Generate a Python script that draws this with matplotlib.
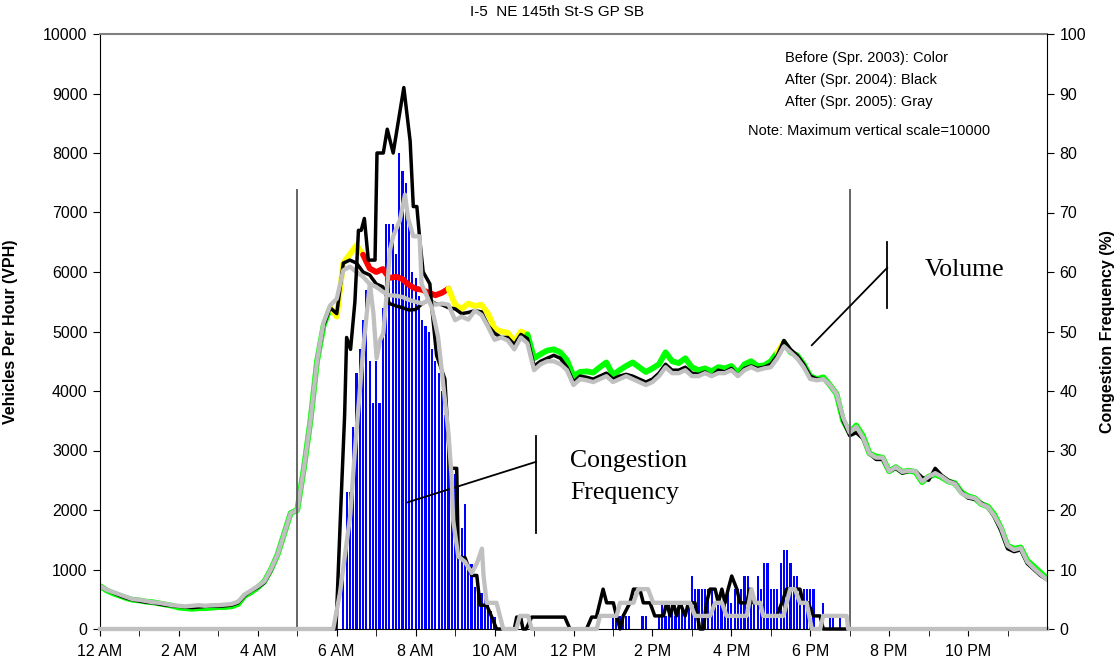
import numpy as np
import matplotlib.pyplot as plt

plt.rcParams['font.family'] = ['Liberation Sans', 'DejaVu Sans']

title = "I-5  NE 145th St-S GP SB"
hour_labels = ['12 AM', '2 AM', '4 AM', '6 AM', '8 AM', '10 AM',
               '12 PM', '2 PM', '4 PM', '6 PM', '8 PM', '10 PM']

# volume (VPH), one value every 10 minutes from 0:00 to 24:00
vol_2003 = [720, 650, 600, 560, 520, 490,
            480, 460, 450, 430, 410, 390,
            360, 350, 340, 350, 350, 360,
            370, 370, 380, 420, 560, 620,
            700, 800, 1000, 1250, 1600, 1950,
            2000, 2700, 3500, 4500, 5100, 5400,
            5250, 6150, 6300, 6450, 6290, 6060,
            6000, 6050, 5900, 5920, 5880, 5780,
            5720, 5700, 5650, 5610, 5650, 5720,
            5450, 5380, 5470, 5430, 5450, 5300,
            5050, 5000, 4980, 4830, 5000, 4950,
            4550, 4620, 4680, 4700, 4650, 4520,
            4250, 4320, 4330, 4310, 4400, 4480,
            4270, 4350, 4420, 4480, 4400, 4320,
            4380, 4450, 4650, 4500, 4470, 4550,
            4400, 4350, 4380, 4330, 4400, 4380,
            4420, 4300, 4450, 4500, 4420, 4430,
            4500, 4650, 4820, 4650, 4600, 4450,
            4250, 4200, 4230, 4100, 3950, 3500,
            3300, 3420, 3250, 2950, 2900, 2880,
            2650, 2720, 2640, 2660, 2640, 2470,
            2560, 2600, 2550, 2480, 2450, 2300,
            2230, 2200, 2100, 2060, 1920, 1700,
            1400, 1350, 1370, 1150, 1050, 950,
            850]
# speed state of the 2003 line: green / yellow / red, (state, number of points)
speed_2003 = [('g', 35), ('y', 5), ('r', 13), ('y', 12), ('g', 38), ('y', 1), ('g', 41)]

vol_2004 = [720, 660, 610, 560, 520, 490,
            470, 450, 440, 420, 400, 390,
            380, 370, 360, 370, 380, 390,
            380, 390, 400, 440, 560, 640,
            700, 780, 980, 1250, 1600, 1950,
            2000, 2700, 3500, 4500, 5100, 5400,
            5300, 6150, 6200, 6150, 6000, 5950,
            5800, 5750, 5470, 5430, 5400, 5360,
            5370, 5470, 5530, 5470, 5450, 5400,
            5380, 5300, 5320, 5350, 5330, 5100,
            4970, 4900, 4900, 4780, 4950, 4880,
            4420, 4500, 4550, 4600, 4550, 4400,
            4150, 4250, 4230, 4200, 4250, 4300,
            4200, 4250, 4280, 4250, 4200, 4150,
            4200, 4300, 4450, 4350, 4350, 4400,
            4300, 4280, 4320, 4250, 4350, 4320,
            4380, 4250, 4380, 4420, 4380, 4400,
            4450, 4600, 4850, 4700, 4600, 4450,
            4250, 4200, 4200, 4100, 3950, 3500,
            3250, 3300, 3200, 2950, 2850, 2850,
            2650, 2700, 2620, 2650, 2650, 2550,
            2500, 2700, 2580, 2500, 2450, 2300,
            2200, 2180, 2120, 2050, 1880, 1650,
            1350, 1300, 1330, 1100, 1000, 900,
            830]

vol_2005 = [720, 660, 620, 580, 540, 500,
            490, 470, 450, 440, 420, 400,
            390, 380, 390, 400, 390, 400,
            400, 410, 420, 460, 580, 650,
            720, 800, 1000, 1250, 1600, 1950,
            2000, 2700, 3500, 4500, 5150, 5440,
            5550, 6030, 6090, 6000, 5920, 5800,
            5750, 5670, 5610, 5600, 5580, 5530,
            5500, 5470, 5530, 5450, 5470, 5450,
            5190, 5250, 5200, 5350, 5280, 5080,
            4860, 4900, 4850, 4700, 4900, 4800,
            4350, 4450, 4500, 4500, 4450, 4350,
            4100, 4200, 4180, 4150, 4200, 4250,
            4150, 4200, 4250, 4200, 4150, 4100,
            4150, 4250, 4400, 4300, 4300, 4350,
            4250, 4250, 4300, 4250, 4300, 4300,
            4350, 4250, 4350, 4400, 4350, 4380,
            4400, 4550, 4750, 4650, 4550, 4400,
            4200, 4180, 4200, 4100, 3950, 3550,
            3300, 3400, 3220, 2950, 2880, 2880,
            2650, 2720, 2640, 2660, 2650, 2480,
            2560, 2620, 2560, 2480, 2440, 2280,
            2220, 2200, 2100, 2050, 1900, 1700,
            1400, 1330, 1360, 1130, 1020, 920,
            830]

# congestion frequency 2003 (%), 5-minute bins
cf_2003_am_start = 6 + 10 / 60
cf_2003_am = [11, 23, 23, 34, 43, 47, 52, 57, 45, 38, 45, 38, 54, 68, 68, 68,
              63, 80, 77, 75, 68, 60, 59, 56, 52, 51, 50, 47, 45, 43, 40, 36,
              34, 27, 26, 24, 17, 21, 11, 11, 7, 6, 6, 5, 4, 3, 2]
cf_2003_pm_start = 13.0
cf_2003_pm = [2.2, 2.2, 2.2, 2.2, 2.2, 2.2, 0, 0, 0, 2.2, 2.2, 0, 0, 0,
              2.2, 4.4, 2.2, 4.4, 4.4, 2.2, 4.4, 4.4, 2.2, 4.4,
              8.9, 6.7, 6.7, 6.7, 6.7, 6.7, 6.7, 4.4, 4.4, 4.4, 4.4,
              6.7, 4.4, 6.7, 6.7, 6.7, 8.9, 8.9, 6.7, 4.4, 8.9, 6.7,
              11.1, 11.1, 6.7, 6.7, 6.7, 11.1, 13.3, 13.3, 11.1, 8.9, 8.9,
              6.7, 6.7, 6.7, 6.7, 6.7, 0, 0, 4.4, 0, 2.2, 2.2, 0, 2.2, 0, 0]

# congestion frequency 2004 (black) and 2005 (gray): hour, percent
cf_2004_t = [0, 5.98, 6.10, 6.20, 6.25, 6.35, 6.46, 6.55, 6.62, 6.70,
             6.80, 6.97, 7.02, 7.18, 7.28, 7.43, 7.70, 7.86, 7.94, 8.03,
             8.11, 8.19, 8.36, 8.41, 8.53, 8.74, 8.79, 8.87, 9.04, 9.08,
             9.25, 9.42, 9.55, 9.63, 9.80, 9.93, 10.05, 10.50, 10.56, 10.66,
             10.72, 10.80, 10.94, 11.78, 11.91, 12.33, 12.46, 12.58, 12.75, 12.84,
             13.01, 13.09, 13.18, 13.26, 13.43, 13.52, 13.68, 13.77, 13.94, 14.06,
             14.28, 14.36, 14.45, 14.53, 14.61, 14.70, 14.83, 14.91, 15.08, 15.20,
             15.29, 15.37, 15.46, 15.59, 15.67, 15.76, 15.84, 15.92, 16.01, 16.14,
             16.22, 16.39, 16.47, 16.56, 16.73, 16.81, 17.15, 17.28, 17.40, 17.74,
             17.82, 17.95, 18.08, 18.25, 18.33, 24]
cf_2004_v = [0, 0, 20, 36, 49, 47, 55, 67, 67, 69,
             62, 62, 80, 80, 84, 80, 91, 82, 71, 71,
             65, 60, 58, 54, 46, 42, 36, 27, 27, 12,
             12, 9, 9, 4, 4, 2, 0, 0, 2, 2,
             0, 0, 2, 2, 0, 0, 2, 2, 6.7, 4.4,
             4.4, 2.2, 0, 2.2, 4.4, 6.7, 6.7, 4.4, 4.4, 2.2,
             2.2, 4.4, 2.2, 4.4, 2.2, 4.4, 2.2, 4.4, 4.4, 0,
             0, 4.4, 6.7, 6.7, 4.4, 6.7, 4.4, 6.7, 8.9, 6.7,
             4.4, 4.4, 6.7, 4.4, 4.4, 2.2, 2.2, 4.4, 6.7, 6.7,
             4.4, 4.4, 2.2, 2.2, 0, 0]

cf_2005_t = [0, 5.91, 6.08, 6.34, 6.46, 6.67, 6.79, 6.84, 6.93, 7.01,
             7.10, 7.18, 7.27, 7.35, 7.43, 7.60, 7.73, 7.81, 7.94, 8.10,
             8.15, 8.41, 8.57, 8.66, 8.83, 8.91, 8.95, 9.08, 9.25, 9.42,
             9.55, 9.68, 9.72, 9.80, 10.05, 10.22, 10.55, 10.64, 10.85, 10.94,
             12.59, 12.67, 13.09, 13.18, 13.52, 13.64, 13.89, 14.02, 14.95, 15.08,
             15.46, 15.59, 15.76, 15.88, 16.39, 16.51, 16.60, 16.73, 16.81, 17.32,
             17.49, 17.61, 17.74, 17.91, 18.04, 18.25, 18.33, 18.92, 18.96, 24]
cf_2005_v = [0, 0, 6, 19, 30, 47, 55, 58, 53, 45.5,
             48.6, 49.7, 56.7, 63.7, 66, 68.7, 73, 69, 66, 66,
             58, 54, 49, 43.5, 33, 25.6, 18.3, 12.2, 11.3, 9.4,
             11, 13.5, 9, 4.4, 4.4, 0, 0, 2.2, 2.2, 0,
             0, 2.2, 2.2, 4.4, 4.4, 6.7, 6.7, 4.4, 4.4, 2.2,
             2.2, 4.4, 4.4, 2.2, 2.2, 6.7, 4.4, 4.4, 2.2, 2.2,
             6.7, 6.7, 4.4, 4.4, 0, 0, 2.2, 2.2, 0, 0]

speed_colors = {'g': '#00ff00', 'y': '#ffff00', 'r': '#ff0000'}

fig = plt.figure(figsize=(11.15, 6.69), dpi=100)
box = [100 / 1115, 40 / 669, 947 / 1115, 595 / 669]
axb = fig.add_axes(box)                  # bars (bottom layer)
ax = fig.add_axes(box, sharex=axb)       # volume
ax2 = fig.add_axes(box, sharex=axb)      # congestion lines, right axis

# congestion bars 2003
t_am = cf_2003_am_start + np.arange(len(cf_2003_am)) * 5 / 60
t_pm = cf_2003_pm_start + np.arange(len(cf_2003_pm)) * 5 / 60
axb.bar(t_am, cf_2003_am, width=0.055, color='#0000ff', linewidth=0)
axb.bar(t_pm, cf_2003_pm, width=0.055, color='#0000ff', linewidth=0)
axb.set_ylim(0, 100)
axb.axis('off')

# volume lines
t10 = np.arange(len(vol_2003)) / 6
start = 0
for code, n in speed_2003:
    end = min(start + n, len(t10) - 1)
    ax.plot(t10[start:end + 1], vol_2003[start:end + 1], color=speed_colors[code],
            lw=4.2, solid_capstyle='round', solid_joinstyle='round')
    start = end
ax.plot(t10, vol_2004, color='black', lw=2.5, solid_joinstyle='round')
ax.plot(t10, vol_2005, color='#c0c0c0', lw=3.1, solid_joinstyle='round')

# markers of the analysis period and annotation pointers
ax.vlines([5, 19], 0, 7400, color='#595959', lw=1.3)
ax.plot([19.95, 19.95], [5400, 6500], color='black', lw=1.3)
ax.plot([19.95, 18.04], [6070, 4770], color='black', lw=1.3)
ax.plot([11.05, 11.05], [1610, 3240], color='black', lw=1.3)
ax.plot([11.05, 7.8], [2810, 2130], color='black', lw=1.3)

ax.set_xlim(0, 24)
ax.set_ylim(0, 10000)
ax.set_xticks(np.arange(0, 24, 2))
ax.set_xticklabels(hour_labels)
ax.set_xticks(np.arange(1, 25, 2), minor=True)
ax.set_yticks(np.arange(0, 10001, 1000))
ax.tick_params(axis='x', which='both', direction='out', length=5, labelsize=11.5, pad=6)
ax.tick_params(axis='y', direction='out', length=5, labelsize=11.5, pad=4)
ax.set_ylabel('Vehicles Per Hour (VPH)', fontsize=11.5, fontweight='bold')
ax.yaxis.set_label_coords(-0.087, 0.5)
ax.patch.set_visible(False)
ax.spines['right'].set_visible(False)
ax.spines['top'].set_color('#808080')
ax.spines['top'].set_linewidth(1.5)

# congestion frequency lines
ax2.plot(cf_2004_t, cf_2004_v, color='black', lw=2.5, clip_on=False)
ax2.plot(cf_2005_t, cf_2005_v, color='#c0c0c0', lw=3.1, clip_on=False)
ax2.set_ylim(0, 100)
ax2.set_yticks(np.arange(0, 101, 10))
ax2.yaxis.tick_right()
ax2.yaxis.set_label_position('right')
ax2.tick_params(axis='y', direction='out', length=5, labelsize=11.5, pad=4)
ax2.set_ylabel('Congestion Frequency (%)', fontsize=11.5, fontweight='bold')
ax2.yaxis.set_label_coords(1.056, 0.5)
ax2.xaxis.set_visible(False)
ax2.patch.set_visible(False)
for s in ['left', 'top', 'bottom']:
    ax2.spines[s].set_visible(False)

# texts
fig.text(0.5, 1 - 12 / 669, title, ha='center', va='center', fontsize=11)
ax.text(0.7233, 0.9597, 'Before (Spr. 2003): Color', transform=ax.transAxes,
        fontsize=10.5, va='center')
ax.text(0.7233, 0.9227, 'After (Spr. 2004): Black', transform=ax.transAxes,
        fontsize=10.5, va='center')
ax.text(0.7233, 0.8857, 'After (Spr. 2005): Gray', transform=ax.transAxes,
        fontsize=10.5, va='center')
ax.text(0.6843, 0.837, 'Note: Maximum vertical scale=10000', transform=ax.transAxes,
        fontsize=10.5, va='center')
ax.text(0.871, 0.603, 'Volume', transform=ax.transAxes, fontsize=18.5,
        family='Liberation Serif', va='center')
ax.text(0.4963, 0.2555, 'Congestion\nFrequency', transform=ax.transAxes, fontsize=18.5,
        family='Liberation Serif', va='center', linespacing=1.55)

fig.savefig('out.png', dpi=100)
